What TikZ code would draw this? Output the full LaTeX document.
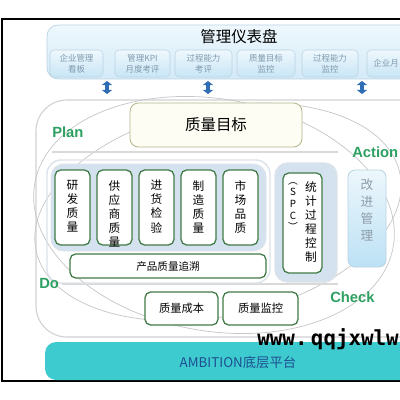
\documentclass[tikz,border=0pt]{standalone}
\usepackage{fontspec}
\setmainfont{Noto Sans CJK SC}
\newfontfamily\latinsans{Liberation Sans}
\newfontfamily\wmarkfont{DejaVu Sans Mono}
\usetikzlibrary{arrows.meta}
\tikzset{
  boxsize/.style 2 args={minimum width=#1*0.025cm, minimum height=#2*0.025cm},
  qbox/.style={draw=qgreen, line width=0.9pt, fill=white, rounded corners=4pt, inner sep=0pt},
  tabbox/.style={draw=tabline, line width=0.4pt, top color=tabtop, bottom color=tabbot,
    rounded corners=3pt, inner sep=0pt, align=center, text=tabtext,
    font=\fontsize{6}{7.8}\selectfont},
  vtext/.style={align=center, anchor=north, inner sep=0pt, font=\fontsize{8.3}{10}\selectfont},
  pdca/.style={anchor=west, inner sep=0pt, text=pdcagreen, font=\latinsans\bfseries\fontsize{10.5}{12}\selectfont},
  dblarrow/.style={draw=arrowblue, line width=3pt,
    {Triangle[width=7.5pt,length=3pt]}-{Triangle[width=7.5pt,length=3pt]}},
  thinring/.style={draw=gray!45, line width=0.5pt}
}
\begin{document}
\begin{tikzpicture}[x=0.025cm, y=-0.025cm]
  \definecolor{qgreen}{HTML}{3F7A45}
  \definecolor{pdcagreen}{HTML}{2DA062}
  \definecolor{tabline}{HTML}{B9D3E3}
  \definecolor{tabtop}{HTML}{EEF8FD}
  \definecolor{tabbot}{HTML}{C9E5F5}
  \definecolor{tabtext}{HTML}{7F9AAE}
  \definecolor{arrowblue}{HTML}{2F6DB5}
  \definecolor{groupfill}{HTML}{D3E2EE}
  \definecolor{grouprim}{HTML}{DCE3EA}
  \definecolor{goalline}{HTML}{B5B58E}
  \definecolor{goalfill}{HTML}{FDFDF3}
  \definecolor{imptop}{HTML}{EDF7FC}
  \definecolor{impbot}{HTML}{BCE1F5}
  \definecolor{imptext}{HTML}{8D9CAA}
  \definecolor{basefill}{HTML}{3ECBCF}
  \definecolor{basetext}{HTML}{1D4F91}
  \useasboundingbox[fill=white] (0,0) rectangle (400,400);
  \draw [line width=0.8pt] (2,19) rectangle (412,381);
  % dashboard
  \node [draw=tabline, line width=0.5pt, top color=tabtop, bottom color=tabbot!80,
    rounded corners=8pt, boxsize={380}{54}] (dash) at (237,52) {};
  \node [font=\fontsize{11}{13}\selectfont] (dashtitle) at (239,37) {管理仪表盘};
  \node [tabbox, boxsize={53}{27}] (tab1) at (76.5,63.5) {企业管理\\看板};
  \node [tabbox, boxsize={55}{27}] (tab2) at (142.5,63.5) {管理KPI\\月度考评};
  \node [tabbox, boxsize={57}{27}] (tab3) at (203.5,63.5) {过程能力\\考评};
  \node [tabbox, boxsize={58}{27}] (tab4) at (266,63.5) {质量目标\\监控};
  \node [tabbox, boxsize={56}{27}] (tab5) at (330,63.5) {过程能力\\监控};
  \node [tabbox, boxsize={58}{27}] (tab6) at (396,63.5) {};
  \node [anchor=east, inner sep=0pt, text=tabtext, font=\fontsize{6}{7.8}\selectfont] (tab6txt) at (399,63.5) {企业月};
  \coordinate (a1t) at (107,81);  \coordinate (a1b) at (107,94);
  \coordinate (a2t) at (208,81);  \coordinate (a2b) at (208,94);
  \coordinate (a3t) at (362,81);  \coordinate (a3b) at (362,94);
  \draw [dblarrow] (a1t) -- (a1b);
  \draw [dblarrow] (a2t) -- (a2b);
  \draw [dblarrow] (a3t) -- (a3b);
  % core frame with PDCA rings
  \draw [draw=gray!35, line width=0.8pt, rounded corners=22pt] (36,100) rectangle (430,337);
  \draw [thinring, rotate around={-10:(214,215)}] (214,215) ellipse (182 and 116);
  \draw [thinring, rotate around={12:(218,212)}] (218,212) ellipse (186 and 104);
  \draw [draw=gray!30, line width=1.2pt] (52,152) -- (338,152);
  \draw [draw=gray!30, line width=1.2pt] (62,284) -- (338,284);
  \node [draw=goalline, line width=0.6pt, fill=goalfill, rounded corners=6pt,
    boxsize={172}{44}, font=\fontsize{11}{13}\selectfont] (goal) at (216,125) {质量目标};
  % process groups
  \draw [draw=grouprim, line width=1pt, rounded corners=10pt] (47,160) rectangle (270,283);
  \draw [draw=grouprim, line width=0.6pt, fill=groupfill, rounded corners=9pt] (51,164) rectangle (266,251);
  \node [qbox, boxsize={35}{75}] (rd) at (72.5,207.5) {};
  \node [qbox, boxsize={35}{75}] (sup) at (114.5,207.5) {};
  \node [qbox, boxsize={35}{75}] (inc) at (156.5,207.5) {};
  \node [qbox, boxsize={35}{75}] (mfg) at (198.5,207.5) {};
  \node [qbox, boxsize={35}{75}] (mkt) at (240.5,207.5) {};
  \node [vtext] (rdtxt) at (72.5,180) {研\\发\\质\\量};
  \node [vtext] (suptxt) at (114.5,180) {供\\应\\商\\质\\量};
  \node [vtext] (inctxt) at (156.5,180) {进\\货\\检\\验};
  \node [vtext] (mfgtxt) at (198.5,180) {制\\造\\质\\量};
  \node [vtext] (mkttxt) at (240.5,180) {市\\场\\品\\质};
  \node [qbox, boxsize={196}{24}, font=\fontsize{7.5}{9}\selectfont] (trace) at (168,266) {产品质量追溯};
  \draw [draw=grouprim, line width=1pt, fill=groupfill, rounded corners=9pt] (275,163) rectangle (337,282);
  \node [qbox, boxsize={39}{100}] (spc) at (302.5,223) {};
  \node [vtext, font=\fontsize{7}{8.3}\selectfont] (spcabbr) at (293,182) {︵\\S\\P\\C\\︶};
  \node [vtext] (spctxt) at (311,181) {统\\计\\过\\程\\控\\制};
  \node [draw=tabline, line width=0.6pt, top color=imptop, bottom color=impbot,
    rounded corners=5pt, boxsize={38}{97}] (improve) at (367,218.5) {};
  \node [vtext, text=imptext, font=\fontsize{9}{12}\selectfont] (imptxt) at (367,179) {改\\进\\管\\理};
  \node [qbox, boxsize={73}{33}, font=\fontsize{8}{10}\selectfont] (cost) at (181.5,308.5) {质量成本};
  \node [qbox, boxsize={75}{33}, font=\fontsize{8}{10}\selectfont] (monitor) at (260.5,308.5) {质量监控};
  \node [pdca] (plan) at (52,132) {Plan};
  \node [pdca] (action) at (352,152) {Action};
  \node [pdca] (do) at (39,283) {Do};
  \node [pdca] (check) at (330,297) {Check};
  % base platform
  \node [fill=basefill, rounded corners=8pt, boxsize={380}{38}] (base) at (235,361) {};
  \node [text=basetext, font=\fontsize{9.5}{11}\selectfont] (basetxt) at (238,362) {AMBITION底层平台};
  \node [anchor=east, inner sep=0pt, font=\wmarkfont\bfseries\fontsize{14.8}{16}\selectfont] (wmark) at (399,339) {www.\,qqjxwlw};
\end{tikzpicture}
\end{document}
